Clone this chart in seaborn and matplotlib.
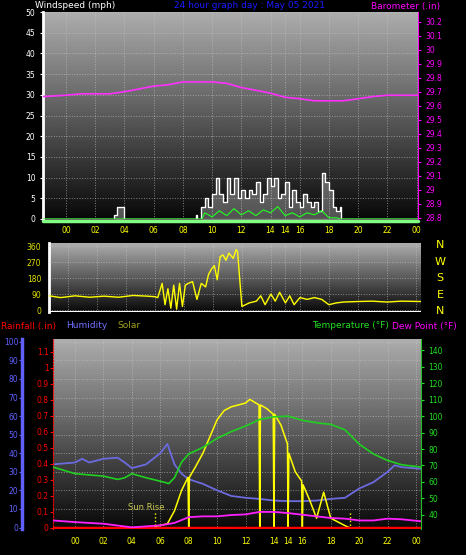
import numpy as np
import matplotlib
matplotlib.use("Agg")
import matplotlib.pyplot as plt
import seaborn as sns

sns.set_style("dark")
plt.rcParams['font.family'] = ['DejaVu Sans']

# ---------------- data ----------------
baro_t = [-1.6, 0, 1, 3, 4, 5, 6, 7, 8, 10, 11, 12, 13, 14, 15, 16, 17, 19, 20, 21, 22, 24.1]
baro_v = [29.665, 29.675, 29.685, 29.685, 29.70, 29.72, 29.74, 29.75, 29.77, 29.77, 29.76, 29.73,
          29.71, 29.69, 29.66, 29.65, 29.635, 29.635, 29.65, 29.665, 29.675, 29.675]

gust_t = [-1.6, 3.2, 3.3, 3.5, 3.9, 4.0, 8.8, 8.9, 9.0, 9.25, 9.5, 9.75, 10.0, 10.25, 10.5, 10.75, 11.0,
          11.25, 11.5, 11.75, 12.0, 12.25, 12.5, 12.75, 13.0, 13.25, 13.5, 13.75, 14.0, 14.25,
          14.5, 14.75, 15.0, 15.25, 15.5, 15.75, 16.0, 16.25, 16.5, 16.75, 17.0, 17.25, 17.5,
          17.75, 18.0, 18.25, 18.5, 18.75, 18.8, 24.1]
gust_v = [0, 0, 1, 3, 3, 0, 0, 1, 0, 3, 5, 3, 6, 10, 6, 4, 10, 6, 10, 5, 7, 5, 7, 6, 9, 4, 6,
          10, 8, 10, 5, 6, 9, 3, 7, 4, 3, 6, 4, 3, 4, 2, 11, 9, 7, 3, 2, 3, 0, 0]
avg_t = [-1.6, 9.3, 9.5, 10.0, 10.5, 11.0, 11.5, 12.0, 12.5, 13.0, 13.5, 14.0, 14.5, 15.0,
         15.5, 16.0, 16.5, 17.0, 17.5, 18.0, 18.5, 18.8, 24.1]
avg_v = [0, 0, 1.5, 0.5, 2, 0.8, 2.5, 1, 2, 0.8, 2.2, 1.5, 3, 0.8, 1.5, 0.5, 1.5, 1, 2, 0.3, 0.3, 0, 0]

dir_t = [-1.3, -0.5, 0.5, 1.5, 2.5, 3.5, 4.5, 5.5, 6.0, 6.2, 6.5, 6.7, 6.9, 7.1, 7.3, 7.5, 7.7,
         7.9, 8.1, 8.3, 8.6, 8.9, 9.2, 9.5, 9.7, 9.9, 10.1, 10.3, 10.5, 10.7, 10.9, 11.1, 11.4,
         11.6, 11.7, 12.0, 12.5, 13.0, 13.3, 13.6, 14.0, 14.3, 14.6, 15.0, 15.3, 15.6, 16.0,
         16.5, 17.0, 17.5, 18.0, 18.5, 19.0, 20.0, 21.0, 22.0, 23.0, 24.35]
dir_v = [80, 70, 80, 72, 78, 72, 82, 78, 75, 70, 150, 30, 120, 10, 140, 5, 150, 20, 140, 150,
         160, 60, 150, 130, 200, 230, 250, 170, 300, 310, 280, 320, 290, 340, 330, 20, 40, 50,
         80, 30, 90, 50, 100, 40, 80, 30, 70, 60, 70, 60, 30, 40, 45, 48, 50, 45, 50, 48]

temp_t = [-1.55, 0, 2, 3, 3.5, 4, 5, 6, 6.6, 7, 7.5, 8, 9, 10, 11, 12, 13, 14, 15, 16, 17, 18,
          19, 20, 21, 22, 23, 24.35]
temp_v = [69, 65, 63.5, 61.5, 62.5, 65, 62.5, 60.4, 59, 62.5, 72, 77, 81, 86.5, 90.6, 94, 98,
          99.6, 100, 97.5, 96, 95, 91.7, 83, 77, 73, 70.4, 69]

hum_t = [-1.55, 0, 0.5, 1, 2, 3, 3.5, 4, 5, 5.5, 6, 6.5, 7, 7.5, 8, 9, 10, 11, 12, 13, 14, 15,
         16, 17, 18, 19, 20, 21, 22, 22.5, 23, 24.35]
hum_v = [34, 35, 37, 35, 37, 37.6, 35, 32, 34, 37, 40, 45, 34, 29, 26, 23.5, 20, 17, 16, 15.4,
         14.5, 14.2, 14.2, 14.5, 15.4, 16, 21, 24.4, 30, 33.5, 32.5, 31.6]

dew_t = [-1.55, 0, 2, 4, 6, 7, 8, 9, 10, 11, 12, 13, 14, 15, 16, 17, 18, 19, 20, 21, 22, 23, 24.35]
dew_v = [36.5, 35.5, 34.5, 32.3, 33.5, 35, 38.5, 39, 39, 39.8, 40.2, 41.7, 41.7, 41, 40, 39,
         38, 37.6, 36.5, 36.5, 37.6, 37.2, 36]

sol_t = [5.6, 6.5, 7.0, 7.5, 7.95, 8.0, 8.05, 8.5, 9.0, 9.5, 10.0, 10.5, 11.0, 12.0, 12.3,
         12.95, 13.0, 13.05, 13.5, 13.95, 14.0, 14.05, 14.5, 14.95, 15.0, 15.05, 15.5, 15.95,
         16.0, 16.05, 16.5, 17.0, 17.5, 18.0, 18.5, 19.0, 19.3]
sol_v = [0.5, 2, 9, 20, 27, 0, 27, 33, 40, 49, 58, 63, 65, 67, 69, 66, 0, 66, 64, 61, 0, 61, 55,
         45, 0, 40, 30, 25, 0, 23, 15, 5, 19, 5, 3, 1, 0]

rain_t = [-1.55, 24.35]
rain_v = [0, 0]

hour_ticks = [0, 2, 4, 6, 8, 10, 12, 14, 15, 16, 18, 20, 22, 24]
hour_labels = ["00", "02", "04", "06", "08", "10", "12", "14", "14", "16", "18", "20", "22", "00"]

# ---------------- figure ----------------
W, H = 466, 555
fig = plt.figure(figsize=(W / 100, H / 100), dpi=100, facecolor="black")

def box(l, t, r, b):
    return [l / W, (H - b) / H, (r - l) / W, (b - t) / H]

grad = np.linspace(0, 1, 256).reshape(-1, 1)

def style(ax, xlim, ylim):
    ax.set_xlim(*xlim)
    ax.set_ylim(*ylim)
    ax.imshow(grad, extent=[xlim[0], xlim[1], ylim[0], ylim[1]], aspect="auto",
              cmap="gray", vmin=-0.05, vmax=1.5, origin="lower", zorder=0)
    ax.set_facecolor("black")
    ax.grid(True, color="#c8c8c8", linestyle=":", linewidth=0.7, alpha=0.6)
    ax.set_axisbelow(False)
    for s in ax.spines.values():
        s.set_visible(False)
    ax.tick_params(colors="white", labelsize=5.5, length=2)

# top panel
ax1 = fig.add_axes(box(43, 12, 418, 219))
style(ax1, (-1.58, 24.1), (0, 50))
ax1.set_yticks(range(0, 51, 5))
ax1.tick_params(axis="y", labelcolor="white")
ax1.set_xticks(hour_ticks)
ax1.set_xticklabels(hour_labels, color="yellow")
ax1.tick_params(axis="x", colors="yellow", length=0, pad=5)
ax1.spines["left"].set_visible(True); ax1.spines["left"].set_color("white"); ax1.spines["left"].set_linewidth(2)
ax1.axhline(-0.4, color="#80ff80", lw=2.5, zorder=3, clip_on=False)
sns.lineplot(x=gust_t, y=gust_v, ax=ax1, color="white", lw=0.9, drawstyle="steps-post", zorder=4)
ax1.fill_between(gust_t, gust_v, step="post", color="white", alpha=0.3, zorder=3)
sns.lineplot(x=avg_t, y=avg_v, ax=ax1, color="#20ff20", lw=0.8, zorder=5)
ax1b = ax1.twinx()
ax1b.set_ylim(28.79, 30.27)
bt = np.round(np.arange(28.8, 30.25, 0.1), 1)
ax1b.set_yticks(bt)
ax1b.set_yticklabels([f"{v:g}" for v in bt])
ax1b.tick_params(colors="magenta", labelsize=5.5, length=2)
for s in ax1b.spines.values():
    s.set_visible(False)
ax1b.spines["right"].set_visible(True); ax1b.spines["right"].set_color("magenta")
sns.lineplot(x=baro_t, y=baro_v, ax=ax1b, color="#ff30ff", lw=1.2)
ax1b.grid(False)

fig.text(35 / W, 1 - 6 / H, "Windspeed (mph)", color="white", fontsize=6.5, va="center")
fig.text(250 / W, 1 - 6 / H, "24 hour graph day : May 05 2021", color="#1a1aff", fontsize=6.5, va="center", ha="center")
fig.text(440 / W, 1 - 6 / H, "Barometer (.in)", color="magenta", fontsize=6.5, va="center", ha="right")

# middle panel
ax2 = fig.add_axes(box(49, 243, 421, 312))
style(ax2, (-1.3, 24.35), (-11, 377))
ax2.set_yticks([0, 90, 180, 270, 360])
ax2.tick_params(axis="y", labelcolor="#e0e000", labelsize=5.5)
ax2.set_xticks(hour_ticks)
ax2.tick_params(axis="x", length=0, labelbottom=False)
ax2.spines["left"].set_visible(True); ax2.spines["left"].set_color("white"); ax2.spines["left"].set_linewidth(2)
ax2.axhline(-9, color="white", lw=1.5, zorder=3)
sns.lineplot(x=dir_t, y=dir_v, ax=ax2, color="yellow", lw=1.0, zorder=4)
for i, c in enumerate(["N", "W", "S", "E", "N"]):
    fig.text(440 / W, 1 - (245 + i * 16.5) / H, c, color="yellow", fontsize=8, ha="center", va="center")

fig.text(1 / W, 1 - 326 / H, "Rainfall (.in)", color="red", fontsize=6.5, va="center")
fig.text(66 / W, 1 - 326 / H, "Humidity", color="#7070ff", fontsize=6.5, va="center")
fig.text(117 / W, 1 - 326 / H, "Solar", color="#a0a020", fontsize=6.5, va="center")
fig.text(312 / W, 1 - 326 / H, "Temperature (°F)", color="#20e020", fontsize=6.5, va="center")
fig.text(392 / W, 1 - 326 / H, "Dew Point (°F)", color="magenta", fontsize=6.5, va="center")

# bottom panel
ax3 = fig.add_axes(box(53, 339, 421, 529))
style(ax3, (-1.55, 24.35), (-0.8, 101.5))
ax3.set_yticks(range(0, 101, 10))
ax3.spines["left"].set_visible(True)
ax3.spines["left"].set_position(("outward", 22))
ax3.spines["left"].set_color("#6060ff"); ax3.spines["left"].set_linewidth(2.5)
ax3.tick_params(axis="y", labelcolor="#6060ff", colors="#6060ff", labelsize=5.5, pad=1)
ax3.set_xticks(hour_ticks)
ax3.set_xticklabels(hour_labels, color="yellow")
ax3.tick_params(axis="x", colors="yellow", length=0, pad=6)
sns.lineplot(x=hum_t, y=hum_v, ax=ax3, color="#6b6bdf", lw=1.3, zorder=4)
sns.lineplot(x=sol_t, y=sol_v, ax=ax3, color="yellow", lw=1.1, zorder=6)
ax3.axvline(5.6, ymax=0.09, color="yellow", ls=":", lw=1)
ax3.axvline(19.35, ymax=0.09, color="yellow", ls=":", lw=1)
ax3.text(5.0, 9.5, "Sun Rise", color="#c8c850", fontsize=6, ha="center")

ax3r = ax3.twinx()
ax3r.set_ylim(-0.008, 1.18)
rt = np.round(np.arange(0, 1.15, 0.1), 1)
ax3r.set_yticks(rt)
ax3r.set_yticklabels([f"{v:g}" for v in rt])
for s in ax3r.spines.values():
    s.set_visible(False)
ax3r.yaxis.tick_left()
ax3r.spines["left"].set_visible(True); ax3r.spines["left"].set_color("red"); ax3r.spines["left"].set_linestyle(":")
ax3r.tick_params(colors="red", labelsize=5.5, length=2, pad=1)
sns.lineplot(x=rain_t, y=rain_v, ax=ax3r, color="red", lw=2.5, zorder=5)
ax3r.grid(False)

ax3t = ax3.twinx()
ax3t.set_ylim(31.3, 147)
ax3t.set_yticks(range(40, 141, 10))
for s in ax3t.spines.values():
    s.set_visible(False)
ax3t.spines["right"].set_visible(True); ax3t.spines["right"].set_color("#20c020")
ax3t.tick_params(colors="#20e020", labelsize=5.5, length=2)
sns.lineplot(x=temp_t, y=temp_v, ax=ax3t, color="#20d020", lw=1.2)
sns.lineplot(x=dew_t, y=dew_v, ax=ax3t, color="#ff20ff", lw=1.3)
ax3t.grid(False)

for a in [ax1, ax1b, ax2, ax3, ax3r, ax3t]:
    a.set_xlabel(""); a.set_ylabel("")

fig.savefig("out.png", dpi=100, facecolor="black")
